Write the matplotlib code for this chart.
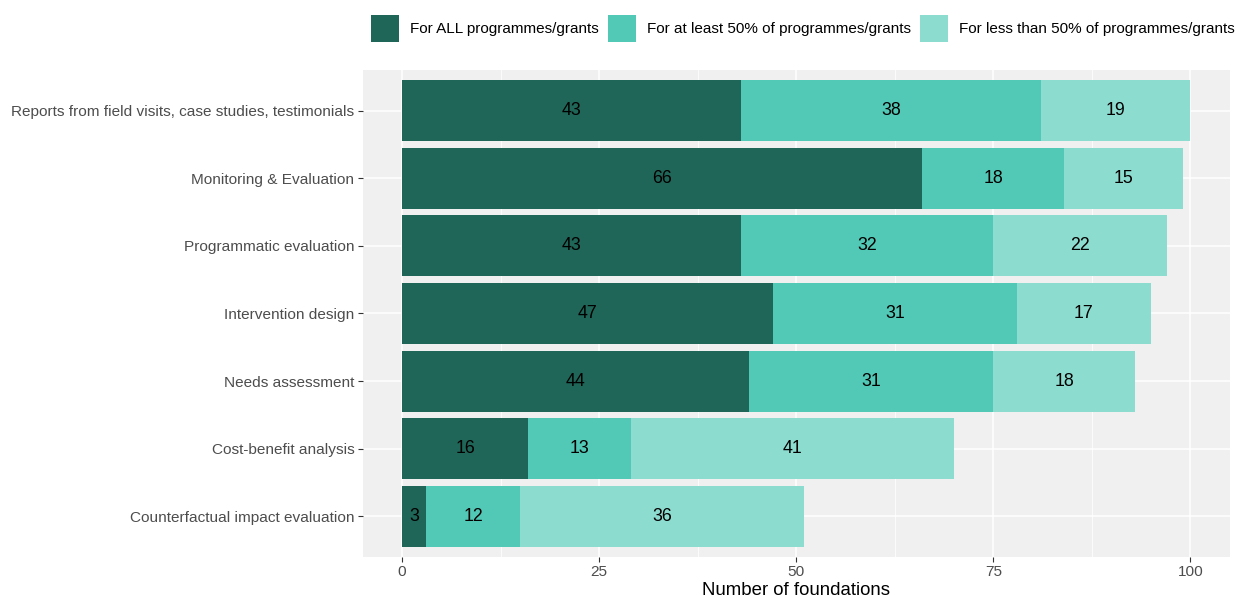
import matplotlib
matplotlib.use("Agg")
import matplotlib.pyplot as plt
from matplotlib.patches import Patch
import numpy as np

plt.rcParams['font.family'] = ['Liberation Sans', 'DejaVu Sans']

categories = [
    "Reports from field visits, case studies, testimonials",
    "Monitoring & Evaluation",
    "Programmatic evaluation",
    "Intervention design",
    "Needs assessment",
    "Cost-benefit analysis",
    "Counterfactual impact evaluation",
]
all_grants = [43, 66, 43, 47, 44, 16, 3]
at_least_50 = [38, 18, 32, 31, 31, 13, 12]
less_than_50 = [19, 15, 22, 17, 18, 41, 36]

series_names = [
    "For ALL programmes/grants",
    "For at least 50% of programmes/grants",
    "For less than 50% of programmes/grants",
]
colors = ["#1F6659", "#52C9B6", "#8DDCD0"]
x_ticks = [0, 25, 50, 75, 100]

fig = plt.figure(figsize=(12.37, 5.98), dpi=100)
ax = fig.add_axes([0.2932, 0.0686, 0.7010, 0.8144])
ax.set_facecolor("#F0F0F0")

y = np.arange(len(categories))
left = np.zeros(len(categories))
for vals, col, name in zip([all_grants, at_least_50, less_than_50], colors, series_names):
    vals = np.array(vals, dtype=float)
    ax.barh(y, vals, left=left, height=0.9, color=col, label=name, zorder=3)
    for yi, l, v in zip(y, left, vals):
        ax.text(l + v / 2, yi, f"{int(v)}", ha="center", va="center",
                fontsize=12.8, color="black", zorder=4)
    left += vals

ax.set_xlim(-5, 105)
ax.set_ylim(len(categories) - 0.4, -0.6)
ax.set_yticks(y)
ax.set_yticklabels(categories)
ax.set_xticks(x_ticks)
ax.set_xticks([12.5, 37.5, 62.5, 87.5], minor=True)
ax.grid(True, which="major", color="white", linewidth=1.1, zorder=0)
ax.grid(True, which="minor", axis="x", color="white", linewidth=0.55, zorder=0)
ax.tick_params(axis="both", which="major", colors="#333333", labelcolor="#4D4D4D",
               labelsize=11.05, length=3.5, width=0.8, pad=2.5)
ax.tick_params(axis="both", which="minor", length=0)
for s in ax.spines.values():
    s.set_visible(False)
ax.set_xlabel("Number of foundations", fontsize=13.4, color="black", labelpad=2)

handles = [Patch(facecolor=c, edgecolor="none") for c in colors]
fig.legend(handles, series_names, loc="upper right", bbox_to_anchor=(1.0055, 0.99),
           ncol=3, frameon=False, fontsize=11.0, handlelength=1.85, handleheight=2.35,
           handletextpad=0.68, columnspacing=0.62, borderaxespad=0.2)

fig.savefig("out.png", dpi=100)
